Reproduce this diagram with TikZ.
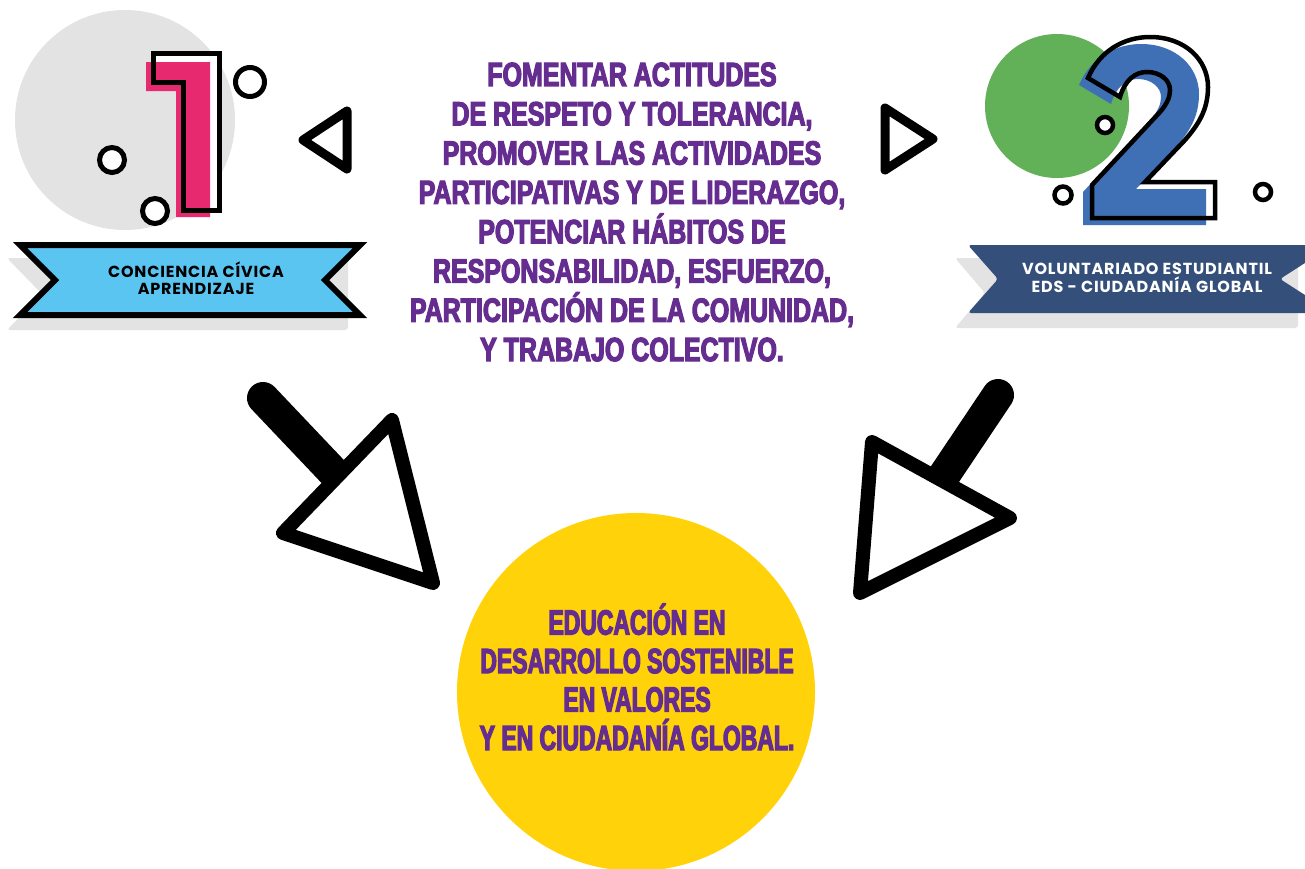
\documentclass[tikz,border=0pt]{standalone}
\usepackage{fontspec}
\usetikzlibrary{calc}
\newfontfamily\impactfont[FakeStretch=0.745,FakeBold=3.5]{Liberation Sans Bold}
\newfontfamily\impactnarrow[FakeStretch=0.655,FakeBold=3.5]{Liberation Sans Bold}
\newfontfamily\cintafont[LetterSpace=5]{Poppins}
\definecolor{morado}{HTML}{662D91}
\definecolor{grisclaro}{HTML}{E3E3E3}
\definecolor{rosa}{HTML}{E72A6F}
\definecolor{celeste}{HTML}{5BC5F2}
\definecolor{verde}{HTML}{62B058}
\definecolor{azuldos}{HTML}{3F6FB5}
\definecolor{azulcinta}{HTML}{34507A}
\definecolor{amarillo}{HTML}{FFD20A}
\tikzset{
  forma uno/.style={insert path={(153,53) -- (219,53) -- (219,210) -- (183,210) -- (183,82) -- (153,82) -- cycle}},
  forma dos/.style={insert path={(1088,78) .. controls (1100,50) and (1125,37) .. (1150,37)
      .. controls (1185,37) and (1208,60) .. (1208,87)
      .. controls (1208,110) and (1198,125) .. (1185,140) -- (1145,182) -- (1215,182) -- (1215,218)
      -- (1092,218) -- (1092,185) -- (1160,112)
      .. controls (1167,104) and (1170,97) .. (1170,90)
      .. controls (1170,80) and (1160,72) .. (1147,72)
      .. controls (1135,72) and (1125,80) .. (1120,97) -- cycle}}
}
\begin{document}
\begin{tikzpicture}[x=1pt,y=-1pt,
    texto morado/.style={text=morado, align=center, inner sep=0pt},
    texto cinta/.style={align=center, inner sep=0pt, font=\cintafont\bfseries\fontsize{16}{17.5}\selectfont},
    aro/.style={draw=black, fill=white, line width=5pt},
    pico/.style={draw=black, line width=9pt, line join=round},
    flecha/.style={draw=black, fill=white, line width=14pt, line join=round},
    cola/.style={draw=black, line width=32pt, line cap=round}]
\useasboundingbox (0,0) rectangle (1305,868);
\fill[white] (0,0) rectangle (1305,868);

% bloque 1
\fill[grisclaro] (125,120) circle[radius=110pt];
\fill[white, forma uno];
\fill[rosa] (146,62) -- (210,62) -- (210,217) -- (176,217) -- (176,91) -- (146,91) -- cycle;
\draw[line width=5pt, forma uno];
\draw[aro] (250,82) circle[radius=14.5pt];
\draw[aro] (112,160) circle[radius=12.5pt];
\draw[aro] (155,211) circle[radius=12.5pt];
\draw[pico] (303,140) -- (347,111) -- (347,169) -- cycle;

\fill[grisclaro, rounded corners=3pt] (7,258) -- (348,258) -- (348,330) -- (7,330) -- (42,294) -- cycle;
\draw[fill=celeste, line width=6pt] (20,245) -- (360,245) -- (325,280) -- (360,315) -- (20,315) -- (55,280) -- cycle;
\node[texto cinta] (cintauno) at (196,278) {CONCIENCIA CÍVICA\\APRENDIZAJE};

% bloque 2
\fill[verde] (1057,106) circle[radius=72pt];
\fill[white, forma dos];
\fill[azuldos, shift={(-9,7)}, forma dos];
\draw[line width=4.5pt, line join=miter, forma dos];
\draw[aro, line width=4.5pt] (1105,125) circle[radius=8pt];
\draw[aro, line width=4.5pt] (1063,195) circle[radius=8.5pt];
\draw[aro, line width=4.5pt] (1263,192) circle[radius=8pt];
\draw[pico] (885,108) -- (933,139) -- (885,170) -- cycle;

\fill[grisclaro, rounded corners=3pt] (955,258) -- (1298,258) -- (1298,328) -- (955,328) -- (985,293) -- cycle;
\fill[azulcinta, rounded corners=3pt] (968,245) -- (1333,245) -- (1280,279) -- (1333,313) -- (968,313) -- (998,279) -- cycle;
\node[texto cinta, text=white] (cintados) at (1147,278) {VOLUNTARIADO ESTUDIANTIL\\EDS - CIUDADANÍA GLOBAL};

% texto central
\node[texto morado, font=\impactfont\fontsize{33.5}{39.3}\selectfont] (fomentar) at (632,212)
  {FOMENTAR ACTITUDES\\DE RESPETO Y TOLERANCIA,\\PROMOVER LAS ACTIVIDADES\\PARTICIPATIVAS Y DE LIDERAZGO,\\POTENCIAR HÁBITOS DE\\RESPONSABILIDAD, ESFUERZO,\\PARTICIPACIÓN DE LA COMUNIDAD,\\Y TRABAJO COLECTIVO.};

% meta
\node[circle, fill=amarillo, minimum size=358pt, inner sep=0pt] (meta) at (636,692) {};
\node[texto morado, font=\impactnarrow\fontsize{35}{38.5}\selectfont] (metatexto) at (637,677)
  {EDUCACIÓN EN\\DESARROLLO SOSTENIBLE\\EN VALORES\\Y EN CIUDADANÍA GLOBAL.};

% flechas
\coordinate (colaA) at (263,398);
\coordinate (baseA) at (337,476);
\coordinate (vA1) at (283,533);
\coordinate (vA2) at (392,420);
\coordinate (vA3) at (433,583);
\draw[cola] (colaA) -- (baseA);
\draw[flecha] (vA1) -- (vA2) -- (vA3) -- cycle;

\coordinate (colaB) at (998,395);
\coordinate (baseB) at (941,480);
\coordinate (vB1) at (872,442);
\coordinate (vB2) at (1010,518);
\coordinate (vB3) at (860,593);
\draw[cola] (colaB) -- (baseB);
\draw[flecha] (vB1) -- (vB2) -- (vB3) -- cycle;
\end{tikzpicture}
\end{document}
